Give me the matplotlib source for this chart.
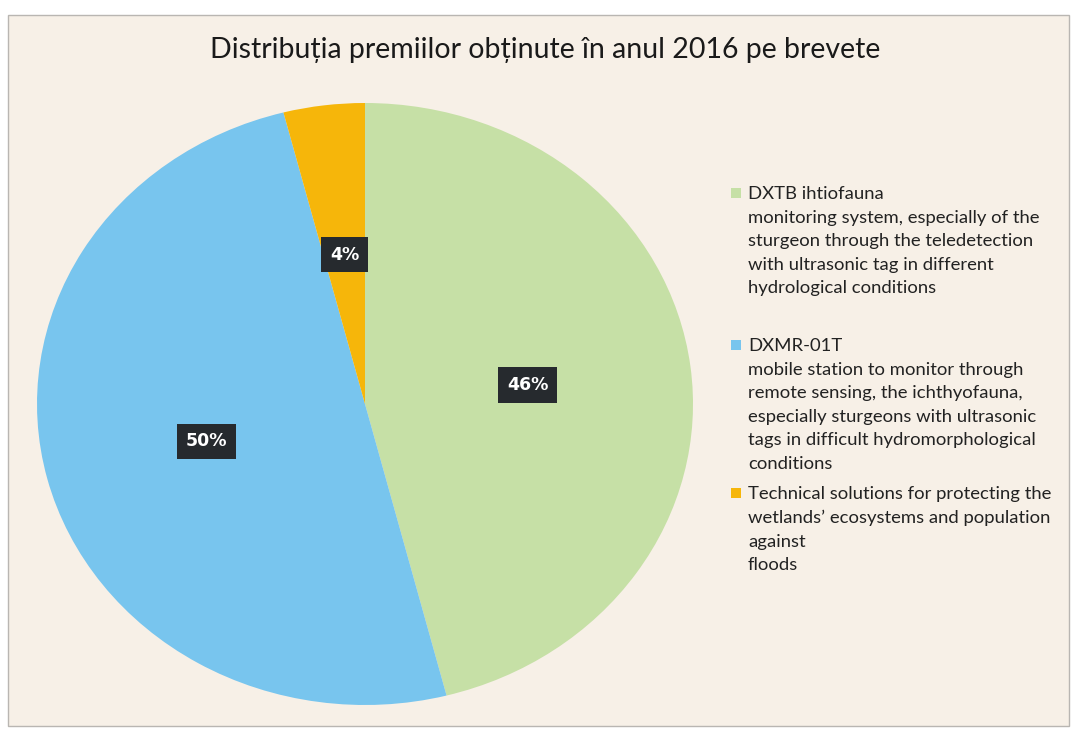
import matplotlib
matplotlib.use("Agg")
import matplotlib.pyplot as plt
from matplotlib.patches import Rectangle

# data
shares = [46, 50, 4]
colors = ["#c6e0a6", "#78c5ee", "#f6b60a"]
legend_labels = [
    "DXTB ihtiofauna\nmonitoring system, especially of the\nsturgeon through the teledetection\nwith ultrasonic tag in different\nhydrological conditions",
    "DXMR-01T\nmobile station to monitor through\nremote sensing, the ichthyofauna,\nespecially sturgeons with ultrasonic\ntags in difficult hydromorphological\nconditions",
    "Technical solutions for protecting the\nwetlands\u2019 ecosystems and population\nagainst\nfloods",
]
title = "Distribuția premiilor obținute în anul 2016 pe brevete"

W, H = 1074, 735
fig = plt.figure(figsize=(W / 100, H / 100), dpi=100)
fig.patch.set_facecolor("white")

# chart background with thin border (behind everything)
bg = fig.add_axes([0, 0, 1, 1], zorder=-5)
bg.set_xlim(0, W)
bg.set_ylim(H, 0)
bg.axis("off")
bg.add_patch(Rectangle((8, 15), 1061, 711, facecolor="#f7f0e7",
                       edgecolor="#b9b6b2", linewidth=1))

fig.text(545 / W, 1 - 50 / H, title, ha="center", va="center",
         fontsize=20.5, family="Lato", color="#1a1a1a")

# pie axes (slightly elliptical like the scan)
ax = fig.add_axes([37 / W, 1 - 705 / H, 656 / W, 602 / H])
wedges, texts, autotexts = ax.pie(shares, colors=colors, startangle=90, counterclock=False,
                                  autopct="%d%%", pctdistance=0.5, radius=1,
                                  wedgeprops=dict(linewidth=0))
ax.set_aspect("auto")
ax.set_xlim(-1, 1)
ax.set_ylim(-1, 1)
ax.axis("off")
for t in autotexts:
    t.set_color("white")
    t.set_fontweight("bold")
    t.set_fontsize(12.5)
    t.set_family("DejaVu Sans")
    t.set_bbox(dict(boxstyle="square,pad=0.5", facecolor="#262a2e", edgecolor="none"))

# legend drawn by hand so the marker sits on the first line
entry_tops = [193, 345, 493]
for lab, col, y in zip(legend_labels, colors, entry_tops):
    bg.add_patch(Rectangle((731, y - 5), 10, 10, facecolor=col, edgecolor="none"))
    fig.text(748 / W, 1 - (y - 7) / H, lab, ha="left", va="top", fontsize=13.3,
             family="Lato", color="#222222", linespacing=1.58)

fig.savefig("out.png", dpi=100, facecolor=fig.get_facecolor())
